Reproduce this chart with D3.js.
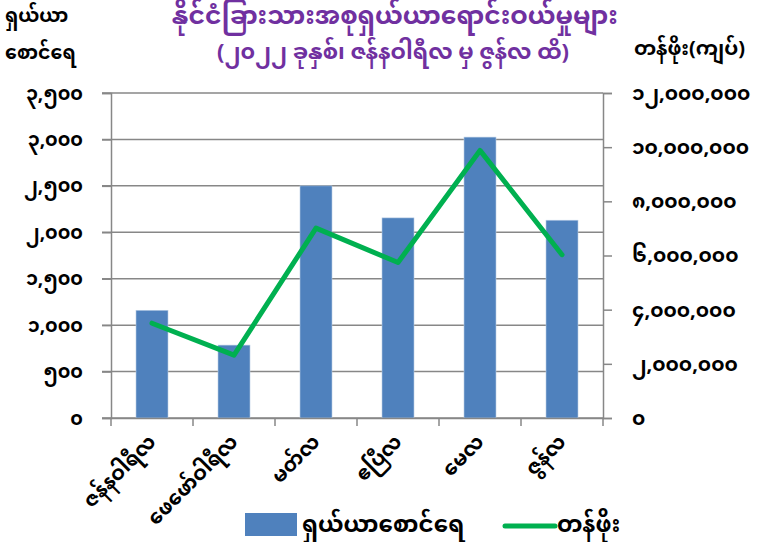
<!DOCTYPE html>
<html lang="my">
<head>
<meta charset="UTF-8">
<title>Shares</title>
<script src="https://d3js.org/d3.v7.min.js"></script>
<style>
  body { margin: 0; background: #fff; }
  text { font-family: "Noto Sans Myanmar", "Myanmar Text", "Padauk", "Noto Sans", sans-serif; font-weight: bold; }
</style>
</head>
<body>
<script>

    // data
    var months = ['ဇန်နဝါရီလ', 'ဖေဖော်ဝါရီလ', 'မတ်လ', 'ဧပြီလ', 'မေလ', 'ဇွန်လ'];
    var shares = [1160, 785, 2500, 2155, 3025, 2130];          // ရှယ်ယာစောင်ရေ
    var values = [3500000, 2320000, 7010000, 5740000, 9880000, 6030000]; // တန်ဖိုး
    var leftTicks = [0, 500, 1000, 1500, 2000, 2500, 3000, 3500];
    var rightTicks = [0, 2000000, 4000000, 6000000, 8000000, 10000000, 12000000];

    var W = 763, H = 542;
    var pl = 111, pr = 603, pt = 93, pb = 418;

    // burmese digits
    var digits = '၀၁၂၃၄၅၆၇၈၉';
    function my(n) {
        return d3.format(',')(n).replace(/[0-9]/g, function (c) { return digits[+c]; });
    }

    var svg = d3.select('body').append('svg')
        .attr('width', W)
        .attr('height', H);

    var x = d3.scaleBand().domain(months).range([pl, pr]).paddingInner(0).paddingOuter(0);
    var yL = d3.scaleLinear().domain([0, 3500]).range([pb, pt]);
    var yR = d3.scaleLinear().domain([0, 12000000]).range([pb, pt]);

    // gridlines
    svg.append('g').selectAll('line')
        .data(leftTicks)
        .enter().append('line')
        .attr('x1', pl - 9).attr('x2', pr)
        .attr('y1', function (d) { return yL(d); })
        .attr('y2', function (d) { return yL(d); })
        .attr('stroke', '#878787')
        .attr('stroke-width', 1.5);

    // bars
    var bw = 32;
    svg.append('g').selectAll('rect')
        .data(shares)
        .enter().append('rect')
        .attr('x', function (d, i) { return x(months[i]) + x.bandwidth() / 2 - bw / 2; })
        .attr('y', function (d) { return yL(d); })
        .attr('width', bw)
        .attr('height', function (d) { return pb - yL(d); })
        .attr('fill', '#4f81bd')
        .attr('stroke', '#b9cde5')
        .attr('stroke-width', 0.6);

    // axes
    var axL = svg.append('g').attr('transform', 'translate(' + pl + ',0)')
        .call(d3.axisLeft(yL).tickValues(leftTicks).tickSize(9).tickFormat(my));
    var axR = svg.append('g').attr('transform', 'translate(' + pr + ',0)')
        .call(d3.axisRight(yR).tickValues(rightTicks).tickSize(9).tickFormat(my));
    var axB = svg.append('g').attr('transform', 'translate(0,' + pb + ')')
        .call(d3.axisBottom(x).tickSize(0).tickFormat(''));

    [axL, axR, axB].forEach(function (a) {
        a.select('.domain').attr('stroke', '#878787').attr('stroke-width', 1.5);
        a.selectAll('.tick line').attr('stroke', '#878787').attr('stroke-width', 1.5);
    });
    axL.selectAll('.tick text').attr('x', -28).attr('font-size', 19).attr('fill', '#000')
        .style('font-weight', 'bold');
    axR.selectAll('.tick text').attr('x', 29).attr('font-size', 20).attr('fill', '#000')
        .style('font-weight', 'bold');

    // category boundary ticks
    var edges = months.map(function (m) { return x(m); }).concat([pr]);
    svg.append('g').selectAll('line')
        .data(edges)
        .enter().append('line')
        .attr('x1', function (d) { return d; }).attr('x2', function (d) { return d; })
        .attr('y1', pb).attr('y2', pb + 8)
        .attr('stroke', '#878787').attr('stroke-width', 1.5);

    // category labels
    svg.append('g').selectAll('text')
        .data(months)
        .enter().append('text')
        .attr('transform', function (d) {
            return 'translate(' + (x(d) + x.bandwidth() / 2 + 5) + ',' + (pb + 25) + ') rotate(-45)';
        })
        .attr('text-anchor', 'end')
        .attr('font-size', 20)
        .text(function (d) { return d; });

    // line
    var line = d3.line()
        .x(function (d, i) { return x(months[i]) + x.bandwidth() / 2; })
        .y(function (d) { return yR(d); });
    svg.append('path')
        .datum(values)
        .attr('d', line)
        .attr('fill', 'none')
        .attr('stroke', '#00b050')
        .attr('stroke-width', 5)
        .attr('stroke-linejoin', 'round')
        .attr('stroke-linecap', 'round');

    // titles
    svg.append('text').attr('x', 395).attr('y', 24).attr('text-anchor', 'middle')
        .attr('font-size', 25).attr('fill', '#7030a0')
        .text('နိုင်ငံခြားသားအစုရှယ်ယာရောင်းဝယ်မှုများ');
    svg.append('text').attr('x', 393).attr('y', 59).attr('text-anchor', 'middle')
        .attr('font-size', 22).attr('fill', '#7030a0')
        .text('(၂၀၂၂ ခုနှစ်၊ ဇန်နဝါရီလ မှ ဇွန်လ ထိ)');

    svg.append('text').attr('x', 5).attr('y', 22).attr('font-size', 19).text('ရှယ်ယာ');
    svg.append('text').attr('x', 5).attr('y', 59).attr('font-size', 19).text('စောင်ရေ');
    svg.append('text').attr('x', 634).attr('y', 55).attr('font-size', 20).text('တန်ဖိုး(ကျပ်)');

    // legend
    var lg = svg.append('g');
    lg.append('rect').attr('x', 245).attr('y', 513).attr('width', 52).attr('height', 23).attr('fill', '#4f81bd');
    lg.append('text').attr('x', 302).attr('y', 532).attr('font-size', 23).text('ရှယ်ယာစောင်ရေ');
    lg.append('line').attr('x1', 505).attr('x2', 555).attr('y1', 526).attr('y2', 526)
        .attr('stroke', '#00b050').attr('stroke-width', 5).attr('stroke-linecap', 'round');
    lg.append('text').attr('x', 557).attr('y', 532).attr('font-size', 23).text('တန်ဖိုး');

</script>
</body>
</html>
